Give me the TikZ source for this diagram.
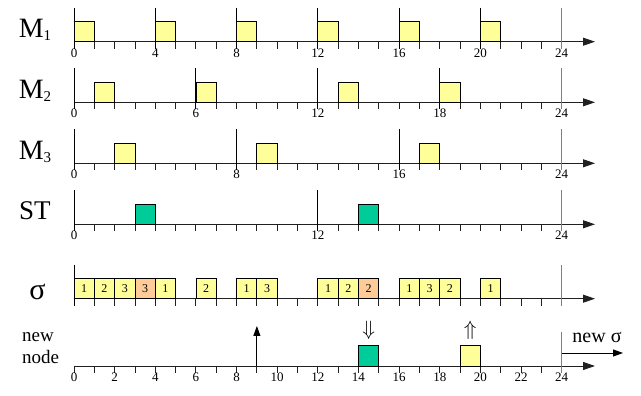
\documentclass[tikz,border=0pt]{standalone}
\usepackage{fontspec}
\setmainfont{Liberation Serif}
\usetikzlibrary{arrows.meta}
\definecolor{boxyellow}{HTML}{FFFF99}
\definecolor{boxgreen}{HTML}{00CC99}
\definecolor{boxorange}{HTML}{FFCC99}
\definecolor{markgray}{HTML}{7F7F7F}
\definecolor{axisdark}{HTML}{202020}
\tikzset{
  axisline/.style={line width=0.9pt, draw=axisdark, -{Triangle[length=12pt,width=8pt]}},
  tickline/.style={line width=0.9pt, draw=axisdark},
  markline/.style={line width=0.9pt, draw=black},
  endline/.style={line width=1.1pt, draw=markgray},
  slot/.style={draw=black, line width=0.8pt, minimum width=20.32pt, minimum height=20.3pt,
    inner sep=0pt, outer sep=0pt, anchor=south west, font=\fontsize{12}{12}\selectfont},
  ylw/.style={slot, fill=boxyellow},
  grn/.style={slot, fill=boxgreen},
  org/.style={slot, fill=boxorange},
  num/.style={font=\fontsize{13}{13}\selectfont, inner sep=0pt},
  rowlabel/.style={font=\fontsize{28}{28}\selectfont, inner sep=0pt, anchor=base},
  smalllabel/.style={font=\fontsize{19}{19}\selectfont, inner sep=0pt, anchor=base west},
  pointer/.style={line width=0.9pt, -{Triangle[length=10pt,width=7pt]}},
}
\newcommand\timeaxis[2]{%
  \coordinate (#1-o) at (0,#2);
  \coordinate (#1-e) at (25.64,#2);
  \draw[axisline] (#1-o) -- (#1-e);
  \foreach \t in {0,...,23} \draw[tickline] (\t,#2) -- (\t,#2+7);
  \draw[endline] (24,#2-34) -- (24,#2+7);
}
\newcommand\sub[1]{\raisebox{-2.5pt}{\fontsize{15}{15}\selectfont #1}}
\begin{document}
\begin{tikzpicture}[x=20.32pt,y=-1pt]
\useasboundingbox (-3.642,0) rectangle (27.904,396);

% ---------- M1 ----------
\timeaxis{m1}{41.7}
\foreach \t in {0,4,...,20} {
  \node[ylw] (m1-b\t) at (\t,41.7) {};
  \draw[markline] (\t,41.7-34) -- (\t,41.7+7);
}
\foreach \t in {0,4,...,24} \node[num] (m1-l\t) at (\t,53) {\t};
\node[rowlabel] (m1-name) at (-1.92,38) {M\sub{1}};

% ---------- M2 ----------
\timeaxis{m2}{102.3}
\foreach \t in {0,6,12,18} \draw[markline] (\t,102.3-34) -- (\t,102.3+7);
\foreach \t in {1,6,13,18} \node[ylw] (m2-b\t) at (\t,102.3) {};
\foreach \t in {0,6,...,24} \node[num] (m2-l\t) at (\t,113.6) {\t};
\node[rowlabel] (m2-name) at (-1.92,98.6) {M\sub{2}};

% ---------- M3 ----------
\timeaxis{m3}{163.3}
\foreach \t in {0,8,16} \draw[markline] (\t,163.3-34) -- (\t,163.3+7);
\foreach \t in {2,9,17} \node[ylw] (m3-b\t) at (\t,163.3) {};
\foreach \t in {0,8,...,24} \node[num] (m3-l\t) at (\t,174.6) {\t};
\node[rowlabel] (m3-name) at (-1.92,159.6) {M\sub{3}};

% ---------- ST ----------
\timeaxis{st}{224.3}
\foreach \t in {0,12} \draw[markline] (\t,224.3-34) -- (\t,224.3+7);
\foreach \t in {3,14} \node[grn] (st-b\t) at (\t,224.3) {};
\foreach \t in {0,12,24} \node[num] (st-l\t) at (\t,235.6) {\t};
\node[rowlabel, font=\fontsize{27}{27}\selectfont] (st-name) at (-1.92,220) {ST};

% ---------- sigma ----------
\timeaxis{sg}{298.7}
\draw[markline] (0,298.7-34) -- (0,298.7+7);
\foreach \t/\m/\s in {0/1/ylw,1/2/ylw,2/3/ylw,3/3/org,4/1/ylw,6/2/ylw,8/1/ylw,9/3/ylw,
  12/1/ylw,13/2/ylw,14/2/org,16/1/ylw,17/3/ylw,18/2/ylw,20/1/ylw}
  \node[\s] (sg-b\t) at (\t,298.7) {\m};
\node[rowlabel, font=\fontsize{30}{30}\selectfont] (sg-name) at (-1.8,300) {σ};

% ---------- new node ----------
\timeaxis{nn}{366}
\node[grn] (nn-b14) at (14,366) {};
\node[ylw] (nn-b19) at (19,366) {};
\foreach \t in {0,2,...,24} \node[num] (nn-l\t) at (\t,377.3) {\t};
\node[smalllabel] (nn-name1) at (-2.56,342) {new};
\node[smalllabel] (nn-name2) at (-2.56,364) {node};
\coordinate (up-a) at (9,366);
\coordinate (up-b) at (9,326);
\draw[pointer] (up-a) -- (up-b);
\node[font=\fontsize{20}{20}\selectfont, inner sep=0pt] (dn-arrow) at (14.5,330) {$\Downarrow$};
\node[font=\fontsize{20}{20}\selectfont, inner sep=0pt] (upp-arrow) at (19.5,330) {$\Uparrow$};
\coordinate (ns-a) at (24,353);
\coordinate (ns-b) at (27.02,353);
\draw[pointer] (ns-a) -- (ns-b);
\node[font=\fontsize{20}{20}\selectfont, inner sep=0pt, anchor=base] (ns-label) at (25.74,343) {new σ};
\end{tikzpicture}
\end{document}
